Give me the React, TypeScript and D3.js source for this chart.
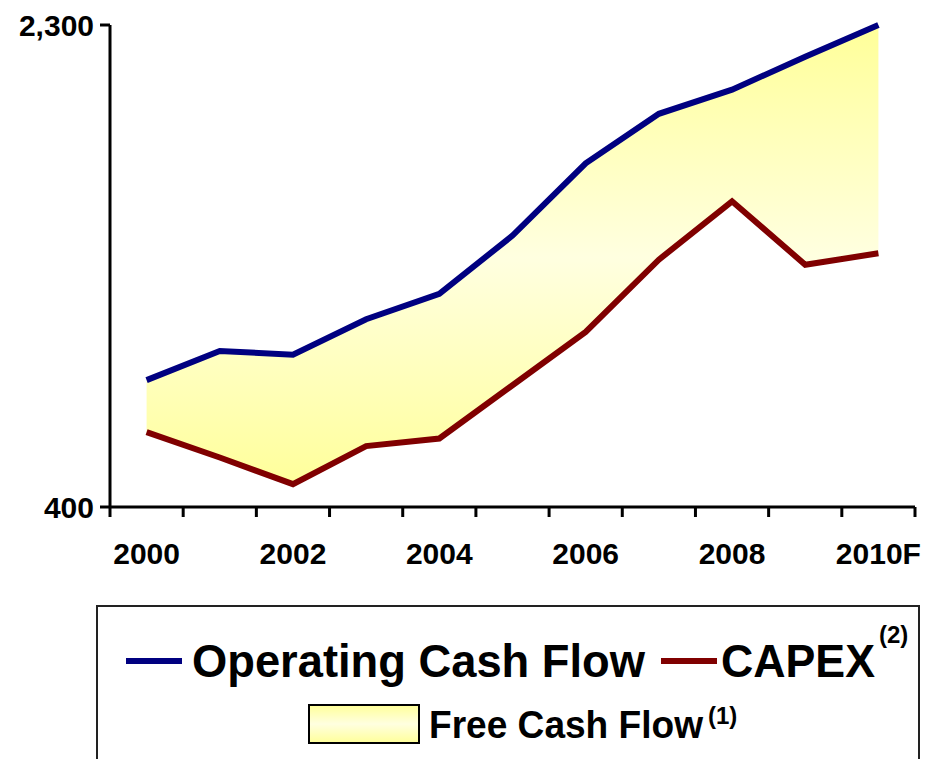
import React from "react";
import * as d3 from "d3";

const categories = ["2000", "2001", "2002", "2003", "2004", "2005", "2006", "2007", "2008", "2009", "2010F"];
const tickLabels = ["2000", "", "2002", "", "2004", "", "2006", "", "2008", "", "2010F"];
const operatingCashFlow = [900, 1015, 1000, 1140, 1240, 1470, 1755, 1950, 2045, 2175, 2300];
const capex = [695, 595, 490, 640, 670, 880, 1090, 1375, 1605, 1355, 1400];
const yTicks = [400, 2300];

const FONT = "'Liberation Sans', Arial, Helvetica, sans-serif";

export default function App() {
  const x = d3.scaleBand<string>().domain(categories).range([110, 915]).padding(0);
  const y = d3.scaleLinear().domain([400, 2300]).range([507, 25]);
  const cx = (i: number) => (x(categories[i]) as number) + x.bandwidth() / 2;

  const rows = categories.map((c, i) => ({ i, ocf: operatingCashFlow[i], cap: capex[i] }));
  const area = d3
    .area<any>()
    .x((d) => cx(d.i))
    .y0((d) => y(d.cap))
    .y1((d) => y(d.ocf));
  const lineO = d3.line<any>().x((d) => cx(d.i)).y((d) => y(d.ocf));
  const lineC = d3.line<any>().x((d) => cx(d.i)).y((d) => y(d.cap));

  const boundaries = categories.map((c) => x(c) as number).concat([x.range()[1]]);

  return (
    <svg
      width={934}
      height={759}
      style={{ position: "absolute", left: 0, top: 0, background: "#fff" }}
      fontFamily={FONT}
    >
      <defs>
        <linearGradient id="fcf" gradientUnits="userSpaceOnUse" x1="0" y1="25" x2="0" y2="490">
          <stop offset="0" stopColor="#ffff99" />
          <stop offset="0.5" stopColor="#ffffe0" />
          <stop offset="1" stopColor="#ffff99" />
        </linearGradient>
        <linearGradient id="fcfLeg" x1="0" y1="0" x2="0" y2="1">
          <stop offset="0" stopColor="#ffff99" />
          <stop offset="0.5" stopColor="#ffffe0" />
          <stop offset="1" stopColor="#ffff99" />
        </linearGradient>
      </defs>

      <path d={area(rows) as string} fill="url(#fcf)" stroke="none" />
      <path d={lineO(rows) as string} fill="none" stroke="#000080" strokeWidth={6} strokeLinejoin="miter" />
      <path d={lineC(rows) as string} fill="none" stroke="#800000" strokeWidth={6} strokeLinejoin="miter" />

      {/* Y axis */}
      <line x1={110} x2={110} y1={y(2300)} y2={y(400)} stroke="#000" strokeWidth={3} />
      {yTicks.map((t) => (
        <g key={t}>
          <line x1={100} x2={110} y1={y(t)} y2={y(t)} stroke="#000" strokeWidth={3} />
          <text x={94} y={y(t) + 11} textAnchor="end" fontSize={30} fontWeight="bold">
            {d3.format(",")(t)}
          </text>
        </g>
      ))}

      {/* X axis */}
      <line x1={110} x2={915} y1={y(400)} y2={y(400)} stroke="#000" strokeWidth={3} />
      {boundaries.map((b, i) => (
        <line key={i} x1={b} x2={b} y1={y(400)} y2={y(400) + 10} stroke="#000" strokeWidth={3} />
      ))}
      {categories.map((c, i) =>
        tickLabels[i] ? (
          <text key={c} x={cx(i)} y={564} textAnchor="middle" fontSize={30} fontWeight="bold">
            {tickLabels[i]}
          </text>
        ) : null
      )}

      {/* Legend */}
      <rect x={97} y={606} width={822} height={200} fill="#fff" stroke="#222" strokeWidth={2} />
      <line x1={126} x2={182} y1={661} y2={661} stroke="#000080" strokeWidth={6} />
      <text x={192} y={677} fontSize={47} fontWeight="bold" textLength={453} lengthAdjust="spacingAndGlyphs">
        Operating Cash Flow
      </text>
      <line x1={661} x2={717} y1={661} y2={661} stroke="#800000" strokeWidth={6} />
      <text x={721} y={677} fontSize={47} fontWeight="bold" textLength={154} lengthAdjust="spacingAndGlyphs">
        CAPEX
      </text>
      <text x={879} y={643} fontSize={24} fontWeight="bold">
        (2)
      </text>
      <rect x={309} y={705} width={110} height={38} fill="url(#fcfLeg)" stroke="#000" strokeWidth={2} />
      <text x={429} y={738} fontSize={38} fontWeight="bold" textLength={274} lengthAdjust="spacingAndGlyphs">
        Free Cash Flow
      </text>
      <text x={708} y={724} fontSize={24} fontWeight="bold">
        (1)
      </text>
    </svg>
  );
}
